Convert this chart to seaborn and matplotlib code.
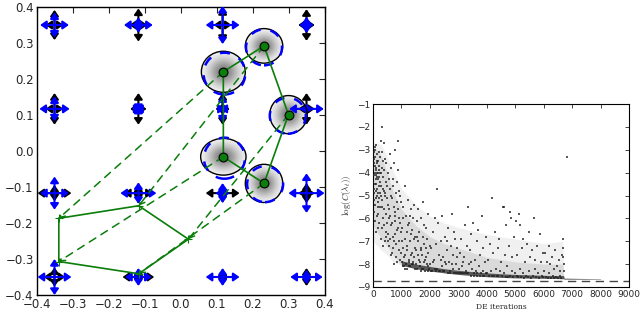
import numpy as np
import pandas as pd
import matplotlib
matplotlib.use('Agg')
import matplotlib.pyplot as plt
import seaborn as sns
from matplotlib.patches import Ellipse, FancyArrowPatch

sns.set_theme(style='white')
plt.rcParams['font.family'] = ['DejaVu Sans']
plt.rcParams['mathtext.fontset'] = 'cm'
plt.rcParams['axes.edgecolor'] = 'black'
plt.rcParams['axes.linewidth'] = 1.0

# ---------- left panel data ----------
grid_x = [-0.35, -0.117, 0.117, 0.35]
grid_y = [0.35, 0.117, -0.117, -0.35]
# half lengths of the arrow crosses, rows follow grid_y, columns grid_x
black_dx = [[0.025, 0.025, 0.025, 0.023],
            [0.025, 0.023, 0.020, 0.023],
            [0.047, 0.040, 0.047, 0.023],
            [0.030, 0.044, 0.012, 0.015]]
black_dy = [[0.042, 0.046, 0.047, 0.044],
            [0.044, 0.044, 0.044, 0.044],
            [0.023, 0.023, 0.023, 0.028],
            [0.027, 0.015, 0.015, 0.025]]
blue_dx = [[0.040, 0.040, 0.047, 0.020],
           [0.042, 0.006, 0.006, 0.048],
           [0.040, 0.050, 0.020, 0.050],
           [0.047, 0.037, 0.047, 0.045]]
blue_dy = [[0.035, 0.022, 0.053, 0.023],
           [0.035, 0.006, 0.038, 0.015],
           [0.046, 0.030, 0.028, 0.055],
           [0.050, 0.025, 0.025, 0.020]]

# upper pentagon (circle centres) A, B, C, E, D
top_x = [0.119, 0.232, 0.300, 0.232, 0.119]
top_y = [0.220, 0.292, 0.101, -0.090, -0.016]
ring_rx = [0.061, 0.052, 0.052, 0.052, 0.063]
ring_ry = [0.057, 0.048, 0.053, 0.053, 0.051]
blue_ring_x = [0.122, 0.232, 0.298, 0.235, 0.122]
blue_ring_y = [0.215, 0.288, 0.098, -0.092, -0.020]
blue_ring_r = [0.058, 0.050, 0.050, 0.050, 0.057]

# lower pentagon, same vertex order
low_x = [-0.338, -0.116, 0.022, -0.116, -0.338]
low_y = [-0.187, -0.152, -0.245, -0.341, -0.307]

left_ticks = [-0.4, -0.3, -0.2, -0.1, 0.0, 0.1, 0.2, 0.3, 0.4]

# ---------- right panel data ----------
pts_0_500 = [(20, -3.1), (40, -3.6), (60, -4.0), (15, -4.4), (80, -3.3), (100, -4.8), (35, -5.2),
             (120, -3.9), (140, -4.2), (55, -2.9), (160, -5.5), (180, -3.5), (200, -4.6), (70, -6.1),
             (90, -3.8), (110, -4.1), (130, -5.0), (150, -3.2), (170, -4.3), (190, -5.8), (210, -3.7),
             (230, -4.9), (25, -4.7), (45, -3.4), (65, -5.4), (85, -4.5), (105, -2.8), (125, -5.9),
             (145, -3.6), (165, -4.0), (185, -6.4), (205, -5.1), (225, -3.9), (245, -4.4), (10, -3.8),
             (30, -5.7), (50, -4.1), (75, -3.0), (95, -6.6), (115, -4.3), (135, -3.5), (155, -4.7),
             (175, -5.3), (195, -3.1), (215, -6.2), (235, -4.0), (12, -4.1), (300, -2.0),
             (260, -3.3), (280, -4.6), (300, -5.2), (320, -3.8), (340, -6.0), (360, -4.2), (380, -2.7),
             (400, -5.6), (420, -4.9), (440, -6.6), (460, -3.6), (480, -5.1), (270, -6.9), (290, -4.0),
             (310, -3.1), (330, -5.5), (350, -4.7), (370, -6.3), (390, -3.9), (410, -5.0), (430, -7.0),
             (450, -4.4), (470, -5.8), (490, -6.2), (265, -5.0), (305, -6.4), (345, -3.5), (385, -4.8),
             (425, -3.4), (465, -6.8), (495, -4.6), (285, -2.6), (355, -7.2), (30, -4.9), (60, -3.7),
             (90, -5.1), (120, -4.5), (150, -4.0), (180, -4.9), (210, -4.2), (240, -5.5)]
pts_500_1000 = [(520, -5.4), (540, -6.7), (560, -4.3), (580, -7.2), (600, -5.9), (620, -6.3),
                (640, -3.8), (660, -7.5), (680, -5.1), (700, -6.8), (720, -4.6), (740, -7.0),
                (760, -5.7), (780, -6.1), (800, -7.7), (820, -4.9), (840, -6.5), (860, -5.3),
                (880, -2.6), (900, -7.4), (920, -6.0), (940, -5.0), (960, -7.8), (980, -6.6),
                (510, -7.0), (530, -4.0), (550, -6.0), (570, -5.6), (590, -3.2), (610, -6.9),
                (630, -7.6), (650, -5.0), (670, -6.2), (690, -4.3), (710, -7.3), (730, -5.5),
                (750, -3.6), (770, -6.7), (790, -5.9), (810, -7.1), (830, -4.4), (850, -7.9),
                (870, -6.4), (890, -5.6), (910, -4.8), (930, -7.0), (950, -6.2), (970, -5.3),
                (990, -7.5), (615, -4.7), (745, -8.0), (875, -3.9), (770, -3.0)]
pts_1000_2000 = [(1010, -7.9), (1030, -6.4), (1050, -7.3), (1070, -5.5), (1090, -8.1), (1110, -6.9),
                 (1130, -7.6), (1150, -5.9), (1170, -8.0), (1190, -6.6), (1210, -7.2), (1230, -5.2),
                 (1250, -7.8), (1270, -6.2), (1290, -7.0), (1310, -8.1), (1330, -6.7), (1350, -5.6),
                 (1370, -7.5), (1390, -6.0), (1410, -7.9), (1430, -6.9), (1450, -5.4), (1470, -7.3),
                 (1490, -8.2), (1020, -7.0), (1060, -6.0), (1100, -7.7), (1140, -4.6), (1180, -7.4),
                 (1220, -6.3), (1260, -8.1), (1300, -5.9), (1340, -7.6), (1380, -6.5), (1420, -8.0),
                 (1460, -6.8), (1040, -8.1), (1120, -8.2), (1200, -8.2), (1280, -7.9), (1360, -8.0),
                 (1440, -7.7), (1510, -7.4), (1530, -6.1), (1550, -8.2), (1570, -7.0), (1590, -5.6),
                 (1610, -7.8), (1630, -6.6), (1650, -8.1), (1670, -7.3), (1690, -6.0), (1710, -8.2),
                 (1730, -7.6), (1750, -6.8), (1770, -5.3), (1790, -7.9), (1810, -7.1), (1830, -8.3),
                 (1850, -6.4), (1870, -7.7), (1890, -8.0), (1910, -6.9), (1930, -7.5), (1950, -5.8),
                 (1970, -8.2), (1990, -7.2), (1520, -8.0), (1580, -7.6), (1640, -7.9), (1700, -7.4),
                 (1760, -8.2), (1820, -7.8), (1880, -7.3), (1940, -8.1), (1560, -6.8), (1680, -8.3),
                 (1800, -6.3), (1920, -8.3)]
pts_2000_4000 = [(2020, -8.0), (2050, -7.3), (2080, -8.3), (2110, -6.6), (2140, -7.8), (2170, -8.2),
                 (2200, -7.1), (2240, -4.7), (2260, -8.2), (2290, -6.2), (2320, -7.6), (2350, -8.3),
                 (2380, -7.0), (2410, -8.1), (2440, -5.9), (2470, -7.7), (2500, -8.3), (2530, -6.8),
                 (2560, -8.0), (2590, -7.4), (2620, -8.4), (2650, -6.4), (2680, -7.9), (2710, -8.3),
                 (2740, -7.2), (2770, -5.8), (2800, -8.2), (2830, -7.6), (2860, -8.4), (2890, -6.9),
                 (2920, -8.0), (2950, -7.3), (2980, -8.4), (2030, -8.3), (2100, -7.9), (2180, -6.0),
                 (2230, -8.3), (2310, -8.3), (2390, -7.8), (2460, -8.3), (2540, -7.9), (2610, -7.0),
                 (2690, -8.4), (2760, -8.0), (2840, -6.6), (2910, -8.4), (2970, -7.7),
                 (3020, -8.2), (3050, -7.5), (3080, -8.4), (3110, -6.9), (3140, -8.1), (3170, -8.4),
                 (3200, -7.7), (3230, -6.3), (3260, -8.3), (3290, -7.2), (3320, -8.4), (3340, -5.5),
                 (3370, -8.0), (3400, -7.4), (3430, -8.5), (3460, -6.7), (3490, -8.2), (3520, -6.2),
                 (3550, -8.4), (3580, -7.8), (3610, -8.3), (3640, -7.0), (3670, -8.5), (3700, -6.5),
                 (3730, -8.1), (3760, -7.6), (3790, -8.4), (3820, -5.9), (3850, -8.3), (3880, -7.3),
                 (3910, -8.5), (3940, -7.9), (3970, -6.8), (3060, -8.4), (3150, -7.9), (3250, -8.4),
                 (3350, -8.4), (3450, -7.9), (3560, -8.5), (3660, -8.4), (3750, -8.5), (3860, -8.5),
                 (3960, -8.4)]
pts_4000_6000 = [(4020, -8.4), (4050, -7.8), (4080, -8.5), (4110, -7.1), (4140, -8.3), (4170, -5.1),
                 (4200, -8.5), (4230, -7.5), (4260, -8.5), (4290, -6.6), (4320, -8.2), (4350, -8.5),
                 (4380, -7.3), (4410, -8.5), (4440, -6.9), (4470, -8.3), (4500, -7.9), (4530, -8.5),
                 (4570, -5.5), (4600, -8.4), (4630, -7.6), (4660, -8.55), (4690, -6.3), (4720, -8.1),
                 (4750, -8.55), (4780, -7.2), (4810, -8.5), (4840, -6.0), (4870, -8.3), (4900, -7.7),
                 (4930, -8.55), (4960, -6.8), (4990, -8.4), (4620, -5.5), (4820, -5.7),
                 (5020, -6.1), (5050, -8.5), (5080, -7.6), (5110, -8.55), (5130, -5.8), (5160, -8.2),
                 (5170, -6.3), (5200, -8.55), (5230, -7.3), (5260, -8.4), (5290, -6.9), (5320, -8.6),
                 (5350, -7.9), (5380, -8.5), (5410, -7.1), (5440, -8.55), (5470, -6.6), (5500, -8.3),
                 (5530, -7.7), (5560, -8.6), (5590, -7.4), (5620, -8.5), (5650, -6.0), (5680, -8.2),
                 (5710, -7.8), (5740, -8.55), (5770, -7.2), (5800, -8.4), (5830, -8.6), (5870, -6.7),
                 (5900, -7.9), (5930, -8.5), (5960, -7.5), (5990, -8.55)]
pts_6000_9000 = [(6020, -8.3), (6050, -7.5), (6080, -8.55), (6110, -7.9), (6140, -8.6), (6170, -7.2),
                 (6200, -8.4), (6230, -8.0), (6260, -8.6), (6290, -7.7), (6320, -8.5), (6350, -8.2),
                 (6380, -8.6), (6410, -7.4), (6440, -8.55), (6470, -8.1), (6500, -8.6), (6530, -7.8),
                 (6560, -8.5), (6590, -8.3), (6620, -8.6), (6650, -7.6), (6680, -6.9), (6690, -7.3),
                 (6700, -8.0), (6700, -8.3), (6680, -7.7), (6810, -3.32)]

# grey haze where the dots are too dense to list (edges)
cloud_x = [0, 150, 300, 500, 700, 1000, 1500, 2000, 2500, 3000, 4000, 5000, 6000, 6680, 6700]
cloud_hi = [-2.9, -3.0, -3.3, -4.0, -4.8, -5.6, -6.3, -6.8, -7.1, -7.3, -7.7, -7.9, -8.0, -8.0, -8.6]
cloud_lo = [-6.3, -6.6, -6.9, -7.2, -7.6, -8.05, -8.2, -8.3, -8.38, -8.45, -8.55, -8.6, -8.62, -8.64, -8.64]
outer_hi = [-2.7, -2.7, -2.8, -3.3, -3.9, -4.7, -5.4, -5.9, -6.2, -6.4, -6.7, -6.9, -7.1, -7.0, -8.6]
outer_lo = [-7.0, -7.2, -7.4, -7.6, -7.9, -8.05, -8.2, -8.3, -8.38, -8.45, -8.55, -8.6, -8.62, -8.64, -8.64]

# dense black floor of the cloud (lower / upper edge)
band_x = [1000, 1500, 2000, 2500, 3000, 3500, 4000, 4500, 5000, 5500, 6000, 6500, 6700, 6720, 7500, 8000]
band_lo = [-8.05, -8.2, -8.3, -8.38, -8.45, -8.5, -8.55, -8.58, -8.6, -8.61, -8.62, -8.63, -8.64, -8.66, -8.66, -8.67]
band_hi = [-7.85, -8.0, -8.1, -8.2, -8.27, -8.33, -8.38, -8.42, -8.45, -8.47, -8.49, -8.5, -8.5, -8.61, -8.63, -8.65]

floor_level = -8.72
right_xticks = [0, 1000, 2000, 3000, 4000, 5000, 6000, 7000, 8000, 9000]
right_yticks = [-9, -8, -7, -6, -5, -4, -3, -2, -1]

green = '#0a7d0a'

fig = plt.figure(figsize=(6.4, 3.12), dpi=100)
ax1 = fig.add_axes([36 / 640, 1 - 295 / 312, 289 / 640, 288 / 312])
ax2 = fig.add_axes([373 / 640, 1 - 287 / 312, 256 / 640, 183 / 312])

# ---------- left panel ----------
ax1.set_xlim(-0.4, 0.4)
ax1.set_ylim(-0.4, 0.4)

# grey blobs under the circles
gx = np.linspace(-0.4, 0.4, 400)
gX, gY = np.meshgrid(gx, gx)
shade = np.zeros_like(gX)
for cx, cy, rx, ry in zip(top_x, top_y, ring_rx, ring_ry):
    d2 = ((gX - cx) / rx) ** 2 + ((gY - cy) / ry) ** 2
    shade = np.maximum(shade, np.where(d2 < 1.05, np.exp(-d2 * 2.2), 0))
img = np.zeros(gX.shape + (4,))
img[..., :3] = 0.3
img[..., 3] = 0.75 * shade
ax1.imshow(img, extent=(-0.4, 0.4, -0.4, 0.4), origin='lower', zorder=1, interpolation='bilinear')


def cross(ax, x, y, dx, dy, color, z):
    for p0, p1 in [((x - dx, y), (x + dx, y)), ((x, y - dy), (x, y + dy))]:
        ar = FancyArrowPatch(p0, p1, arrowstyle='<|-|>,head_length=0.5,head_width=0.35',
                             mutation_scale=7, color=color, lw=1.5, shrinkA=0, shrinkB=0, zorder=z)
        ax.add_patch(ar)


for i, yy in enumerate(grid_y):
    for j, xx in enumerate(grid_x):
        cross(ax1, xx, yy, black_dx[i][j], black_dy[i][j], 'black', 3)
        cross(ax1, xx, yy, blue_dx[i][j], blue_dy[i][j], 'blue', 4)

for cx, cy, rx, ry in zip(top_x, top_y, ring_rx, ring_ry):
    ax1.add_patch(Ellipse((cx, cy), 2 * rx, 2 * ry, fill=False, ec='black', lw=1.0, zorder=5))
for cx, cy, r in zip(blue_ring_x, blue_ring_y, blue_ring_r):
    ax1.add_patch(Ellipse((cx, cy), 2 * r, 2 * r, fill=False, ec='blue', lw=1.8,
                          ls=(0, (4, 4)), zorder=5))

# dashed links from upper vertices to lower ones
for x0, y0, x1, y1 in zip(top_x, top_y, low_x, low_y):
    ar = FancyArrowPatch((x0, y0), (x1, y1), arrowstyle='->,head_length=0.35,head_width=0.2',
                         mutation_scale=10, color=green, lw=1.1, ls=(0, (5, 4)),
                         shrinkA=0, shrinkB=0, zorder=6)
    ax1.add_patch(ar)

top_df = pd.DataFrame({'x': top_x + top_x[:1], 'y': top_y + top_y[:1]})
low_df = pd.DataFrame({'x': low_x + low_x[:1], 'y': low_y + low_y[:1]})
sns.lineplot(data=top_df, x='x', y='y', sort=False, estimator=None, color=green, lw=1.2, ax=ax1, zorder=7)
sns.lineplot(data=low_df, x='x', y='y', sort=False, estimator=None, color=green, lw=1.2, ax=ax1, zorder=7)
ax1.plot(low_x, low_y, '+', color=green, ms=6, mew=0.8, zorder=7)
sns.scatterplot(x=top_x, y=top_y, color=green, edgecolor='black', linewidth=0.8, s=40, ax=ax1, zorder=8)

ax1.set_xticks(left_ticks)
ax1.set_yticks(left_ticks)
ax1.set_xticklabels([f'{t:.1f}'.replace('-', '\u2212') for t in left_ticks])
ax1.set_yticklabels([f'{t:.1f}'.replace('-', '\u2212') for t in left_ticks])
ax1.tick_params(direction='in', top=True, right=True, length=4, width=0.8, labelsize=8.5, pad=2)
ax1.set_xlabel('')
ax1.set_ylabel('')

# ---------- right panel ----------
all_pts = pts_0_500 + pts_500_1000 + pts_1000_2000 + pts_2000_4000 + pts_4000_6000 + pts_6000_9000
sc = pd.DataFrame(all_pts, columns=['it', 'logc'])
ax2.fill_between(cloud_x, outer_lo, outer_hi, color='black', alpha=0.06, lw=0, zorder=1)
ax2.fill_between(cloud_x, cloud_lo, cloud_hi, color='black', alpha=0.09, lw=0, zorder=1)
ax2.fill_between(band_x, band_lo, band_hi, color='black', alpha=0.6, lw=0, zorder=2)
sns.scatterplot(data=sc, x='it', y='logc', color='#222222', s=1.3, marker='s', linewidth=0,
                alpha=0.75, ax=ax2, zorder=3)
ax2.axhline(floor_level, color='#444444', lw=1.0, ls=(0, (6, 4)), zorder=4)
ax2.set_xlim(0, 9000)
ax2.set_ylim(-9, -1)
ax2.set_xticks(right_xticks)
ax2.set_yticks(right_yticks)
ax2.set_yticklabels([str(t).replace('-', '\u2212') for t in right_yticks])
ax2.tick_params(direction='in', top=True, right=True, length=3, width=0.6, labelsize=6.5, pad=2)
ax2.set_xlabel('DE iterations', family='DejaVu Serif', fontsize=5.5, labelpad=3)
ax2.set_ylabel(r'$\log(C(\lambda_t))$', fontsize=6.5, labelpad=3)
for s in ax2.spines.values():
    s.set_linewidth(0.8)

fig.savefig('out.png', dpi=100)
